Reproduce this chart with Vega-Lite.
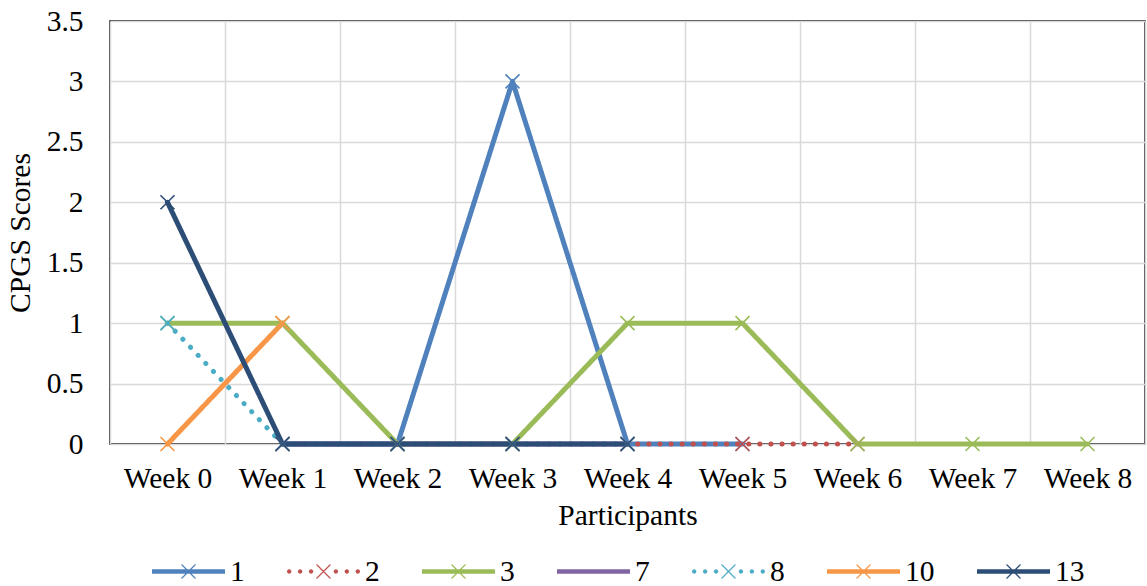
{
  "$schema": "https://vega.github.io/schema/vega-lite/v6.json",
  "autosize": "none",
  "width": 1035,
  "height": 423,
  "padding": {"left": 110, "top": 21, "right": 2, "bottom": 142},
  "config": {
    "background": "white",
    "font": "Liberation Serif",
    "view": {"stroke": "black", "strokeWidth": 1.5},
    "axis": {
      "labelFont": "Liberation Serif",
      "titleFont": "Liberation Serif",
      "labelFontSize": 29.5,
      "titleFontSize": 29.5,
      "labelColor": "black",
      "titleColor": "black",
      "titleFontWeight": "normal",
      "gridColor": "#d9d9d9",
      "gridWidth": 1.5,
      "domain": false,
      "ticks": false,
      "tickSize": 0
    },
    "legend": {"labelFont": "Liberation Serif", "labelFontSize": 29.5, "labelColor": "black"}
  },
  "data": {
    "values": [
      {"week": "Week 1", "series": "1", "score": 0},
      {"week": "Week 2", "series": "1", "score": 0},
      {"week": "Week 3", "series": "1", "score": 3},
      {"week": "Week 4", "series": "1", "score": 0},
      {"week": "Week 5", "series": "1", "score": 0},
      {"week": "Week 1", "series": "2", "score": 0},
      {"week": "Week 2", "series": "2", "score": 0},
      {"week": "Week 3", "series": "2", "score": 0},
      {"week": "Week 4", "series": "2", "score": 0},
      {"week": "Week 5", "series": "2", "score": 0},
      {"week": "Week 6", "series": "2", "score": 0},
      {"week": "Week 0", "series": "3", "score": 1},
      {"week": "Week 1", "series": "3", "score": 1},
      {"week": "Week 2", "series": "3", "score": 0},
      {"week": "Week 3", "series": "3", "score": 0},
      {"week": "Week 4", "series": "3", "score": 1},
      {"week": "Week 5", "series": "3", "score": 1},
      {"week": "Week 6", "series": "3", "score": 0},
      {"week": "Week 7", "series": "3", "score": 0},
      {"week": "Week 8", "series": "3", "score": 0},
      {"week": "Week 1", "series": "7", "score": 0},
      {"week": "Week 2", "series": "7", "score": 0},
      {"week": "Week 3", "series": "7", "score": 0},
      {"week": "Week 4", "series": "7", "score": 0},
      {"week": "Week 0", "series": "8", "score": 1},
      {"week": "Week 1", "series": "8", "score": 0},
      {"week": "Week 2", "series": "8", "score": 0},
      {"week": "Week 3", "series": "8", "score": 0},
      {"week": "Week 4", "series": "8", "score": 0},
      {"week": "Week 0", "series": "10", "score": 0},
      {"week": "Week 1", "series": "10", "score": 1},
      {"week": "Week 0", "series": "13", "score": 2},
      {"week": "Week 1", "series": "13", "score": 0},
      {"week": "Week 2", "series": "13", "score": 0},
      {"week": "Week 3", "series": "13", "score": 0},
      {"week": "Week 4", "series": "13", "score": 0}
    ]
  },
  "encoding": {
    "x": {
      "field": "week",
      "type": "ordinal",
      "bandPosition": 0.5,
      "scale": {"type": "band", "paddingInner": 0, "paddingOuter": 0,
        "domain": ["Week 0", "Week 1", "Week 2", "Week 3", "Week 4", "Week 5", "Week 6", "Week 7", "Week 8"]},
      "axis": {"title": "Participants", "labelAngle": 0, "grid": true, "tickBand": "extent", "labelPadding": 20, "titlePadding": 9}
    },
    "y": {
      "field": "score",
      "type": "quantitative",
      "scale": {"domain": [0, 3.5]},
      "axis": {"title": "CPGS Scores", "values": [0, 0.5, 1, 1.5, 2, 2.5, 3, 3.5], "format": "~g", "labelPadding": 27, "titlePadding": 11}
    },
    "color": {
      "field": "series",
      "type": "nominal",
      "scale": {
        "domain": ["1", "2", "3", "7", "8", "10", "13"],
        "range": ["#4F81BD", "#C0504D", "#9BBB59", "#8064A2", "#4BACC6", "#F79646", "#2C4D75"]
      },
      "legend": {
        "title": null,
        "orient": "none",
        "direction": "horizontal",
        "legendX": 42,
        "legendY": 514,
        "symbolSize": 5329,
        "symbolStrokeWidth": 0,
        "labelOffset": 5,
        "columnPadding": 42,
        "encode": {
          "symbols": {
            "update": {
              "fill": {"scale": "color", "field": "value"},
              "strokeWidth": {"value": 0},
              "shape": {"signal": "datum.value === '7' ? 'M-1,-0.06H1V0.06H-1Z' : (datum.value === '2' || datum.value === '8') ? 'M-1,0a0.06,0.06 0 1,0 0.12,0a0.06,0.06 0 1,0 -0.12,0ZM-0.7,0a0.06,0.06 0 1,0 0.12,0a0.06,0.06 0 1,0 -0.12,0ZM-0.4,0a0.06,0.06 0 1,0 0.12,0a0.06,0.06 0 1,0 -0.12,0ZM0.28,0a0.06,0.06 0 1,0 0.12,0a0.06,0.06 0 1,0 -0.12,0ZM0.58,0a0.06,0.06 0 1,0 0.12,0a0.06,0.06 0 1,0 -0.12,0ZM0.88,0a0.06,0.06 0 1,0 0.12,0a0.06,0.06 0 1,0 -0.12,0ZM-0.215,-0.19L-0.165,-0.19L0.215,0.19L0.165,0.19ZM0.165,-0.19L0.215,-0.19L-0.165,0.19L-0.215,0.19Z' : 'M-1,-0.06H1V0.06H-1ZM-0.215,-0.19L-0.165,-0.19L0.215,0.19L0.165,0.19ZM0.165,-0.19L0.215,-0.19L-0.165,0.19L-0.215,0.19Z'"}
            }
          }
        }
      }
    }
  },
  "layer": [
    {
      "mark": {"type": "line", "strokeWidth": 5, "strokeCap": "round", "strokeJoin": "round"},
      "encoding": {
        "strokeDash": {
          "condition": {"test": "datum.series === '2' || datum.series === '8'", "value": [0.1, 11]},
          "value": [1, 0]
        }
      }
    },
    {
      "transform": [{"filter": "datum.series !== '7'"}],
      "mark": {"type": "point", "shape": "M-1,-1L1,1M-1,1L1,-1", "size": 196, "filled": false, "strokeWidth": 1.6, "opacity": 1}
    }
  ]
}
